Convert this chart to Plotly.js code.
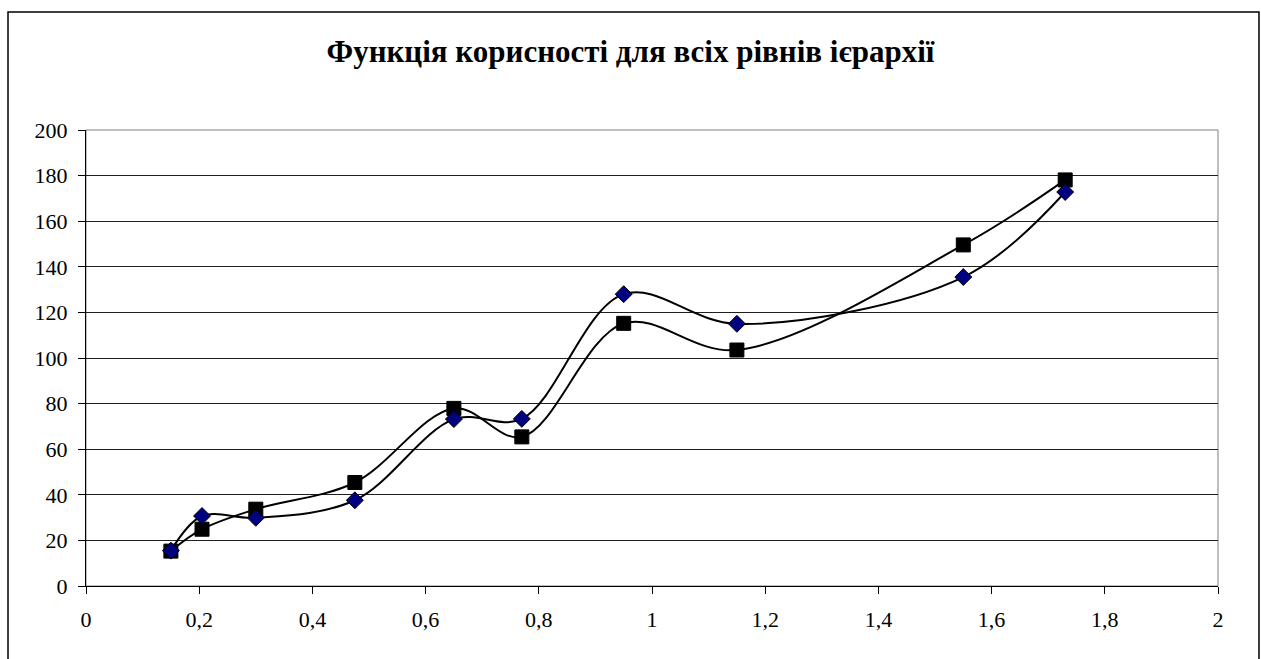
<!DOCTYPE html>
<html>
<head>
<meta charset="utf-8">
<script src="https://cdn.plot.ly/plotly-3.0.1.min.js"></script>
<style>
html,body{margin:0;padding:0;background:#fff;}
#chart{width:1261px;height:659px;}
</style>
</head>
<body>
<div id="chart"></div>
<script>
const chartTitle = "Функція корисності для всіх рівнів ієрархії";
const xValues = [0.15, 0.205, 0.3, 0.475, 0.65, 0.77, 0.95, 1.15, 1.55, 1.73];
const seriesDiamond = [15.5, 30.7, 29.9, 37.6, 73.2, 73.3, 128, 115, 135.5, 172.8];
const seriesSquare = [15.3, 24.9, 33.7, 45.4, 77.9, 65.4, 115.2, 103.5, 149.6, 178.1];
const xTickValues = [0, 0.2, 0.4, 0.6, 0.8, 1, 1.2, 1.4, 1.6, 1.8, 2];
const yTickValues = [0, 20, 40, 60, 80, 100, 120, 140, 160, 180, 200];

const fontFamily = 'Liberation Serif';

const traces = [
  {
    x: xValues, y: seriesSquare, type: 'scatter', mode: 'lines+markers',
    line: {shape: 'spline', smoothing: 1, color: '#000', width: 2},
    marker: {symbol: 'square', size: 14, color: '#000', line: {color: '#000', width: 1}},
    hoverinfo: 'x+y', showlegend: false
  },
  {
    x: xValues, y: seriesDiamond, type: 'scatter', mode: 'lines+markers',
    line: {shape: 'spline', smoothing: 1, color: '#000', width: 2},
    marker: {symbol: 'diamond', size: 13, color: '#000080', line: {color: '#000', width: 1}},
    hoverinfo: 'x+y', showlegend: false
  }
];

const layout = {
  width: 1261, height: 659,
  paper_bgcolor: '#fff', plot_bgcolor: '#fff',
  separators: ', ',
  margin: {l: 86, r: 43, t: 130, b: 73},
  font: {family: fontFamily, color: '#000', size: 22},
  title: {
    text: '<b>' + chartTitle + '</b>',
    font: {family: fontFamily, size: 31, color: '#000'},
    x: 0.5, xanchor: 'center', y: 0.922, yanchor: 'middle'
  },
  xaxis: {
    range: [0, 2], tickvals: xTickValues, ticks: 'outside', ticklen: 7, tickcolor: '#000',
    ticklabelstandoff: 7,
    showgrid: false, zeroline: false, showline: true, linecolor: '#000', linewidth: 1,
    tickfont: {family: fontFamily, size: 22, color: '#000'}, fixedrange: true
  },
  yaxis: {
    range: [0, 200], tickvals: yTickValues, ticks: 'outside', ticklen: 7, tickcolor: '#000',
    ticklabelstandoff: 6,
    showgrid: true, gridcolor: '#202020', gridwidth: 1,
    zeroline: false, showline: true, linecolor: '#000', linewidth: 1,
    tickfont: {family: fontFamily, size: 22, color: '#000'}, fixedrange: true
  },
  shapes: [
    {type: 'rect', xref: 'paper', yref: 'paper', x0: 0, x1: 1, y0: 0, y1: 1,
     line: {color: '#808080', width: 1}, layer: 'below'},
    {type: 'rect', xref: 'paper', yref: 'paper', x0: -0.0689, x1: 1.0362, y0: -0.2, y1: 1.2588,
     line: {color: '#000', width: 1.5}, layer: 'above'}
  ]
};

Plotly.newPlot('chart', traces, layout, {displayModeBar: false, staticPlot: true});
</script>
</body>
</html>
